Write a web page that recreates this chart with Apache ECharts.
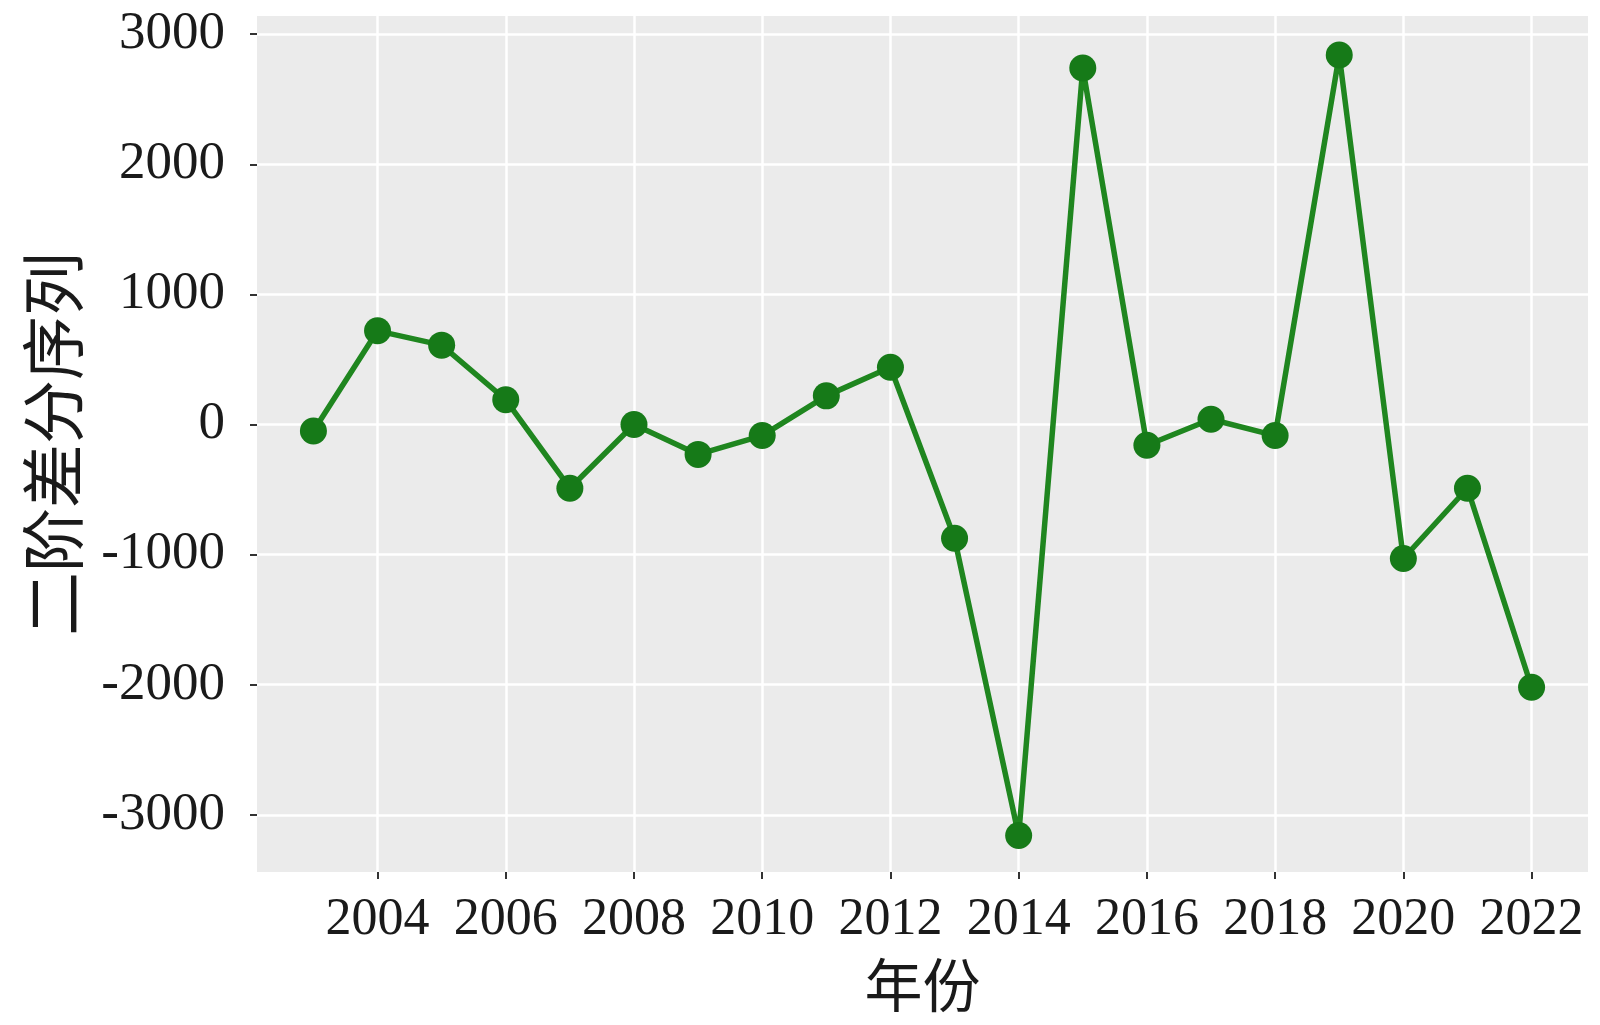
<!DOCTYPE html>
<html>
<head>
<meta charset="utf-8">
<script src="https://cdn.jsdelivr.net/npm/echarts@6/dist/echarts.min.js"></script>
<style>
  html, body { margin: 0; padding: 0; background: #fff; }
  #chart { width: 1600px; height: 1025px; }
</style>
</head>
<body>
<div id="chart"></div>
<script>
// 年份与二阶差分值
const years = [2003, 2004, 2005, 2006, 2007, 2008, 2009, 2010, 2011, 2012,
  2013, 2014, 2015, 2016, 2017, 2018, 2019, 2020, 2021, 2022];
const diff2 = [-50, 720, 610, 190, -490, 0, -230, -85, 220, 440,
  -875, -3160, 2740, -160, 40, -85, 2840, -1030, -490, -2020];

// 刻度
const xTicks = [2004, 2006, 2008, 2010, 2012, 2014, 2016, 2018, 2020, 2022];
const yTicks = [-3000, -2000, -1000, 0, 1000, 2000, 3000];

const chart = echarts.init(document.getElementById('chart'));

const serif = '"Liberation Serif", "DejaVu Serif", serif';
const cjk = '"Noto Sans CJK SC", sans-serif';

const option = {
  backgroundColor: '#ffffff',
  animation: false,
  grid: {
    left: 257, right: 12, top: 16, bottom: 153,
    show: true, backgroundColor: '#EBEBEB', borderWidth: 0
  },
  xAxis: {
    type: 'value',
    min: 2002.12,
    max: 2022.88,
    name: '年份',
    nameLocation: 'middle',
    nameGap: 84,
    nameTextStyle: { fontFamily: cjk, fontSize: 58, color: '#1a1a1a' },
    // 轴线透明，只保留刻度
    axisLine: { show: true, onZero: false, lineStyle: { color: 'rgba(0,0,0,0)' } },
    axisTick: {
      show: true,
      customValues: xTicks,
      length: 7,
      lineStyle: { color: '#333333', width: 2 }
    },
    axisLabel: {
      customValues: xTicks,
      margin: 22,
      fontFamily: serif,
      fontSize: 52,
      color: '#1a1a1a',
      formatter: v => String(v)
    },
    splitLine: { show: true, lineStyle: { color: '#ffffff', width: 2.5 } }
  },
  yAxis: {
    type: 'value',
    min: -3440,
    max: 3140,
    name: '二阶差分序列',
    nameLocation: 'middle',
    nameRotate: 90,
    nameGap: 172,
    nameTextStyle: { fontFamily: cjk, fontSize: 64, color: '#1a1a1a' },
    axisLine: { show: true, onZero: false, lineStyle: { color: 'rgba(0,0,0,0)' } },
    axisTick: {
      show: true, customValues: yTicks, length: 7,
      lineStyle: { color: '#333333', width: 2 }
    },
    axisLabel: {
      customValues: yTicks, margin: 32, fontFamily: serif, fontSize: 53,
      color: '#1a1a1a', formatter: v => String(v)
    },
    splitLine: { show: true, lineStyle: { color: '#ffffff', width: 2.5 } }
  },
  series: [{
    type: 'line',
    data: years.map((y, i) => [y, diff2[i]]),
    symbol: 'circle',
    symbolSize: 27,
    lineStyle: { color: '#1f861f', width: 5.5 },
    itemStyle: { color: '#167a18' }
  }]
};

chart.setOption(option);
</script>
</body>
</html>
